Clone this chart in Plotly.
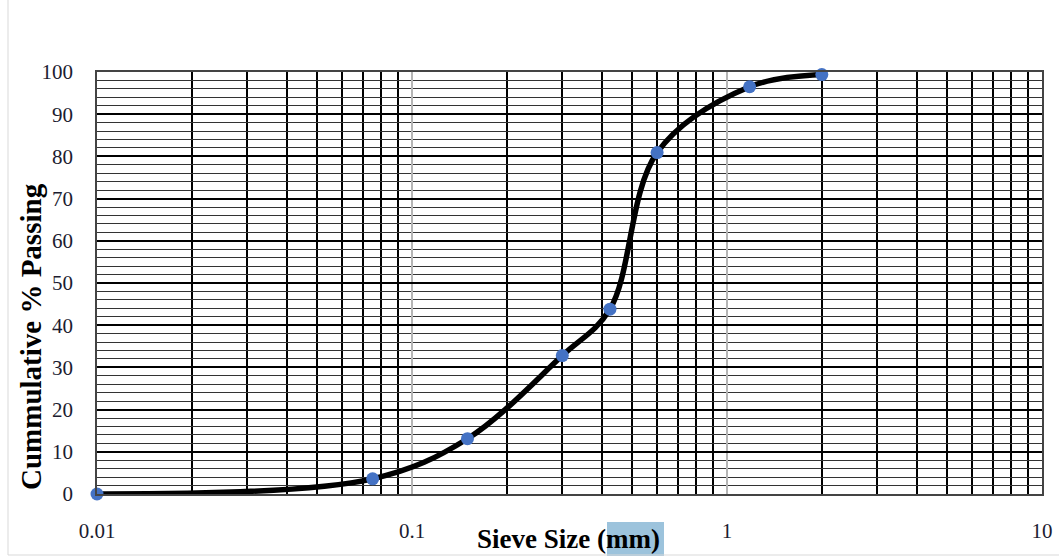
import plotly.graph_objects as go

sieve_mm = [0.01, 0.075, 0.15, 0.3, 0.425, 0.6, 1.18, 2.0]
passing = [0.0, 3.6, 13.1, 32.8, 43.8, 80.9, 96.5, 99.4]

x_tick_vals = [0.01, 0.1, 1, 10]
x_tick_text = ["0.01", "0.1", "1", "10"]

serif = "Liberation Serif, Times New Roman, serif"

fig = go.Figure()
fig.add_trace(go.Scatter(
    x=sieve_mm, y=passing, mode="lines",
    line=dict(color="black", width=5.5, shape="spline", smoothing=1.0),
    hoverinfo="skip", showlegend=False, cliponaxis=False,
))
fig.add_trace(go.Scatter(
    x=sieve_mm, y=passing, mode="markers",
    marker=dict(color="#4472C4", size=13),
    showlegend=False, cliponaxis=False,
))

fig.update_layout(
    width=1059, height=557,
    margin=dict(l=97, r=17, t=72, b=63, autoexpand=False),
    paper_bgcolor="white", plot_bgcolor="white",
    font=dict(family=serif, size=21, color="#1c1c30"),
    xaxis=dict(
        type="log", range=[-2, 1], automargin=False,
        tickvals=x_tick_vals, ticktext=x_tick_text,
        showgrid=True, gridcolor="#b5b5b5", gridwidth=1.5,
        minor=dict(dtick="D1", showgrid=True, gridcolor="black", gridwidth=1.6),
        showline=True, linecolor="#444444", linewidth=1.5, mirror=True,
        ticks="", ticklabelstandoff=17, zeroline=False,
    ),
    yaxis=dict(
        range=[0, 100], dtick=10, automargin=False,
        showgrid=True, gridcolor="black", gridwidth=1.5,
        minor=dict(dtick=2, showgrid=True, gridcolor="#333333", gridwidth=1.2),
        showline=True, linecolor="#444444", linewidth=1.5, mirror=True,
        ticks="", ticklabelstandoff=18, zeroline=False,
    ),
)

# highlight behind "mm"
fig.add_shape(type="rect", xref="paper", yref="paper",
              x0=(607 - 97) / 945, x1=(664 - 97) / 945,
              y0=(494 - 556) / 422, y1=(494 - 522) / 422,
              fillcolor="#9cc3dc", line=dict(width=0), layer="below")

# chart area border (left and bottom)
fig.add_shape(type="line", xref="paper", yref="paper",
              x0=(8 - 97) / 945, x1=(8 - 97) / 945,
              y0=(494 - 555) / 422, y1=(494 - 0) / 422,
              line=dict(color="#d9d9d9", width=1))
fig.add_shape(type="line", xref="paper", yref="paper",
              x0=(8 - 97) / 945, x1=(1059 - 97) / 945,
              y0=(494 - 555) / 422, y1=(494 - 555) / 422,
              line=dict(color="#d9d9d9", width=1))

fig.add_annotation(text="<b>Sieve Size (mm)</b>", xref="paper", yref="paper",
                   x=(568 - 97) / 945, y=(494 - 539) / 422,
                   showarrow=False, font=dict(family=serif, size=27, color="black"),
                   xanchor="center", yanchor="middle")
fig.add_annotation(text="<b>Cummulative % Passing</b>", xref="paper", yref="paper",
                   x=(31 - 97) / 945, y=(494 - 337) / 422, textangle=-90,
                   showarrow=False, font=dict(family=serif, size=29, color="black"),
                   xanchor="center", yanchor="middle")

fig.write_html("out.html")
